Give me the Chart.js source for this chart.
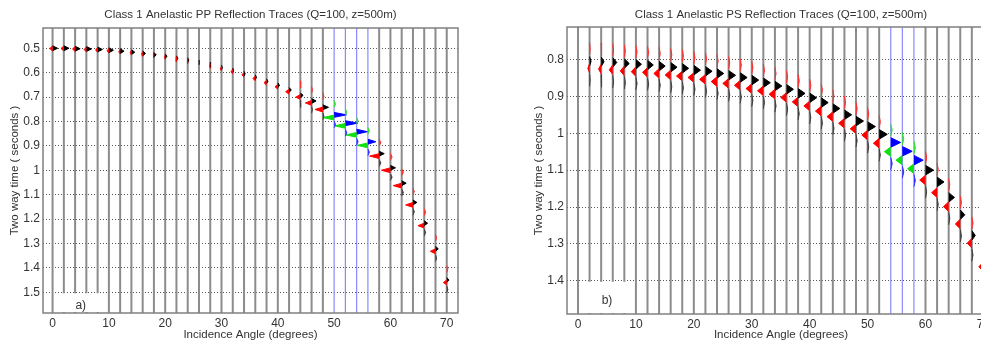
<!DOCTYPE html>
<html>
<head>
<meta charset="utf-8">
<script src="https://cdn.jsdelivr.net/npm/chart.js@4.4.0/dist/chart.umd.min.js"></script>
<style>
  html, body { margin: 0; padding: 0; background: #fff; overflow: hidden; width: 981px; height: 343px; }
  #pp { position: absolute; left: 0; top: 0; }
  #ps { position: absolute; left: 490px; top: 0; }
</style>
</head>
<body>
<canvas id="pp" width="490" height="343"></canvas>
<canvas id="ps" width="520" height="343"></canvas>
<script>
// trace positions (incidence angle, degrees)
const angles = [0, 2, 4, 6, 8, 10, 12, 14, 16, 18, 20, 22, 24, 26, 28, 30, 32, 34,
  36, 38, 40, 42, 44, 46, 48, 50, 52, 54, 56, 58, 60, 62, 64, 66, 68, 70];
const xTicks = [0, 10, 20, 30, 40, 50, 60, 70];

// PP panel
const ppYTicks = [0.5, 0.6, 0.7, 0.8, 0.9, 1, 1.1, 1.2, 1.3, 1.4, 1.5];
const ppHighlight = [50, 52, 54, 56];
const ppRightTime = [0.500, 0.500, 0.502, 0.503, 0.505, 0.508, 0.512, 0.516, 0.521, 0.527,
  0.533, 0.541, 0.549, 0.558, 0.568, 0.579, 0.591, 0.604, 0.619, 0.635, 0.652, 0.671,
  0.693, 0.716, 0.742, 0.773, 0.807, 0.842, 0.883, 0.932, 0.990, 1.053, 1.132, 1.217,
  1.322, 1.450];
const ppLeftTime = [0.501, 0.501, 0.503, 0.505, 0.507, 0.510, 0.514, 0.518, 0.524, 0.530,
  0.536, 0.545, 0.553, 0.562, 0.573, 0.584, 0.596, 0.609, 0.624, 0.641, 0.658, 0.678,
  0.700, 0.724, 0.751, 0.784, 0.818, 0.855, 0.898, 0.942, 1.000, 1.063, 1.142, 1.227,
  1.332, 1.460];
const ppRightAmp = [0.9, 0.9, 0.9, 0.9, 0.85, 0.8, 0.7, 0.6, 0.5, 0.4, 0.3, 0.25, 0.2, 0.05,
  0.1, 0.15, 0.15, 0.2, 0.2, 0.25, 0.3, 0.4, 0.5, 0.8, 1.0, 2.2, 2.2, 1.9, 1.4, 0.9, 0.9,
  0.8, 0.7, 0.6, 0.5, 0.4];
const ppLeftAmp = [0.5, 0.5, 0.45, 0.4, 0.35, 0.3, 0.25, 0.2, 0.2, 0.15, 0.1, 0.05, 0.05, 0,
  0.1, 0.2, 0.3, 0.35, 0.4, 0.45, 0.5, 0.6, 0.8, 1.1, 1.4, 2.0, 1.9, 1.9, 1.9, 1.7, 1.6,
  1.5, 1.3, 1.1, 0.9, 0.6];
const ppSideAmp = [0, 0, 0, 0, 0, 0, 0, 0, 0, 0, 0, 0, 0, 0, 0, 0, 0, 0, 0, 0, 0, 0,
  0.1, 0.15, 0.2, 0.25, 0.25, 0.25, 0.25, 0.3, 0.3, 0.3, 0.25, 0.25, 0.2, 0.2];

// PS panel
const psYTicks = [0.8, 0.9, 1, 1.1, 1.2, 1.3, 1.4];
const psHighlight = [54, 56, 58];
const psRightTime = [null, 0.805, 0.806, 0.808, 0.811, 0.813, 0.815, 0.818, 0.821, 0.824,
  0.829, 0.832, 0.838, 0.843, 0.849, 0.856, 0.863, 0.872, 0.881, 0.892, 0.904, 0.917,
  0.933, 0.950, 0.967, 0.982, 1.003, 1.025, 1.049, 1.073, 1.100, 1.132, 1.174, 1.221,
  1.277, 1.340];
const psLeftTime = [null, 0.824, 0.826, 0.828, 0.831, 0.833, 0.835, 0.838, 0.842, 0.845,
  0.849, 0.854, 0.860, 0.865, 0.870, 0.879, 0.885, 0.894, 0.903, 0.915, 0.926, 0.940,
  0.955, 0.973, 0.988, 1.005, 1.027, 1.050, 1.073, 1.096, 1.127, 1.161, 1.199, 1.246,
  1.298, 1.362];
const psRightAmp = [0, 0.25, 0.5, 0.7, 0.85, 0.95, 1.0, 1.05, 1.1, 1.1, 1.15, 1.15, 1.15,
  1.2, 1.2, 1.2, 1.2, 1.2, 1.2, 1.2, 1.2, 1.2, 1.2, 1.25, 1.3, 1.35, 1.4, 1.7, 1.7, 1.6,
  1.4, 1.2, 1.0, 0.8, 0.6, 0.4];
const psLeftAmp = [0, 0.3, 0.45, 0.6, 0.7, 0.8, 0.85, 0.9, 0.95, 1.0, 1.0, 1.0, 1.0, 1.0,
  1.0, 1.0, 1.0, 1.0, 1.0, 1.0, 1.0, 1.0, 1.0, 1.0, 1.0, 1.0, 1.0, 1.1, 1.1, 1.1, 1.0,
  0.95, 0.9, 0.85, 0.8, 0.8];
const psSideAmp = [0, 0.1, 0.12, 0.15, 0.18, 0.2, 0.2, 0.2, 0.2, 0.2, 0.2, 0.2, 0.2, 0.2,
  0.2, 0.2, 0.2, 0.2, 0.2, 0.2, 0.2, 0.2, 0.2, 0.2, 0.2, 0.2, 0.2, 0.25, 0.25, 0.25, 0.2,
  0.2, 0.2, 0.2, 0.2, 0.2];

const FONT = '"Liberation Sans", Arial, sans-serif';
const TEXT = '#333';

// vertical trace lines, broken with nulls so one dataset holds many traces
function traceData(list, y0, y1) {
  const pts = [];
  list.forEach((a) => {
    pts.push({ x: a, y: y0 }, { x: a, y: y1 }, { x: a, y: null });
  });
  return pts;
}

// filled wavelet lobes as small triangles hanging off each trace
function lobeData(times, amps, dir, shift, hh, keep) {
  const pts = [];
  angles.forEach((a, i) => {
    if (times[i] == null || !amps[i] || !keep(a)) return;
    const t = times[i] + shift;
    pts.push({ x: a, y: t - hh }, { x: a + dir * amps[i], y: t }, { x: a, y: t + hh }, { x: a, y: null });
  });
  return pts;
}

function lobeSet(data, color) {
  return {
    data,
    borderColor: color,
    backgroundColor: color,
    borderWidth: 1,
    pointRadius: 0,
    fill: 'shape',
    order: 0
  };
}

const framePlugin = {
  id: 'frame',
  afterDatasetsDraw(chart, args, opts) {
    const { ctx, chartArea: ca, scales: { x, y } } = chart;
    ctx.save();
    // panel label box in the lower-left corner
    const bx0 = x.getPixelForValue(1);
    const bx1 = x.getPixelForValue(9);
    const by0 = y.getPixelForValue(opts.boxTop);
    ctx.fillStyle = '#fff';
    ctx.fillRect(bx0, by0 + 1, bx1 - bx0, ca.bottom - by0 - 2);
    ctx.fillStyle = TEXT;
    ctx.font = '12px ' + FONT;
    ctx.textAlign = 'center';
    ctx.textBaseline = 'middle';
    ctx.fillText(opts.label, (bx0 + bx1) / 2, (by0 + ca.bottom) / 2 + 3);
    // axes box
    ctx.strokeStyle = '#808080';
    ctx.lineWidth = 1.5;
    ctx.strokeRect(ca.left, ca.top, ca.right - ca.left, ca.bottom - ca.top);
    // title
    ctx.font = '11.5px ' + FONT;
    ctx.fillText(opts.title, (ca.left + ca.right) / 2, opts.titleY);
    ctx.restore();
  }
};

function makeChart(id, p) {
  const hi = (a) => p.highlight.includes(a);
  const lo = (a) => !p.highlight.includes(a);
  const plain = angles.filter(lo);
  const blue = angles.filter(hi);

  const datasets = [
    { data: traceData(plain, p.yMin, p.yMax), borderColor: '#8c8c8c', borderWidth: 2, pointRadius: 0, fill: false, order: 10 },
    { data: traceData(blue, p.yMin, p.yMax), borderColor: '#8a8aff', borderWidth: 1.2, pointRadius: 0, fill: false, order: 9 },
    lobeSet(lobeData(p.rightTime, p.sideAmp, 1, p.preShift, p.sideH, lo), '#ff3030'),
    lobeSet(lobeData(p.rightTime, p.sideAmp, 1, p.preShift, p.sideH, hi), '#30e030'),
    lobeSet(lobeData(p.leftTime, p.sideAmp, 1, p.tailShift, p.sideH, lo), '#404040'),
    lobeSet(lobeData(p.leftTime, p.sideAmp, 1, p.tailShift, p.sideH, hi), '#3030ff'),
    lobeSet(lobeData(p.leftTime, p.leftAmp, -1, 0, p.h, lo), '#ff0000'),
    lobeSet(lobeData(p.leftTime, p.leftAmp, -1, 0, p.h, hi), '#10e010'),
    lobeSet(lobeData(p.rightTime, p.rightAmp, 1, 0, p.h, lo), '#000000'),
    lobeSet(lobeData(p.rightTime, p.rightAmp, 1, 0, p.h, hi), '#0000ff')
  ];

  return new Chart(document.getElementById(id), {
    type: 'line',
    data: { datasets },
    options: {
      responsive: false,
      animation: false,
      events: [],
      layout: { padding: p.padding },
      plugins: {
        legend: { display: false },
        tooltip: { enabled: false },
        frame: { title: p.title, titleY: p.titleY, label: p.label, boxTop: p.boxTop }
      },
      scales: {
        x: {
          type: 'linear',
          min: p.xMin,
          max: p.xMax,
          afterBuildTicks: (s) => { s.ticks = xTicks.map((v) => ({ value: v })); },
          afterFit: (s) => { s.height = p.xAxisH; },
          grid: { display: false, drawTicks: false, tickLength: 0 },
          border: { display: false },
          ticks: { color: TEXT, font: { size: 12, family: FONT }, padding: 3, maxRotation: 0, autoSkip: false, callback: (v) => String(v) },
          title: { display: true, text: 'Incidence Angle (degrees)', color: TEXT, font: { size: 11.5, family: FONT }, padding: { top: 0, bottom: 1 } }
        },
        y: {
          type: 'linear',
          reverse: true,
          min: p.yMin,
          max: p.yMax,
          afterBuildTicks: (s) => { s.ticks = p.yTicks.map((v) => ({ value: v })); },
          afterFit: (s) => { s.width = p.yAxisW; },
          grid: { color: '#555', lineWidth: 1, drawTicks: false },
          border: { display: false, dash: [1, 2] },
          ticks: { color: TEXT, font: { size: 12, family: FONT }, padding: 3, autoSkip: false, callback: (v) => String(v) },
          title: { display: true, text: 'Two way time ( seconds )', color: TEXT, font: { size: 11.5, family: FONT }, padding: { top: p.yTitlePad, bottom: 0 } }
        }
      }
    },
    plugins: [framePlugin]
  });
}

makeChart('pp', {
  title: 'Class 1 Anelastic PP Reflection Traces (Q=100, z=500m)',
  titleY: 15, label: 'a)', boxTop: 1.5,
  xMin: -1.7, xMax: 72, yMin: 0.417, yMax: 1.585,
  yTicks: ppYTicks, highlight: ppHighlight,
  rightTime: ppRightTime, leftTime: ppLeftTime,
  rightAmp: ppRightAmp, leftAmp: ppLeftAmp, sideAmp: ppSideAmp,
  h: 0.010, sideH: 0.014, preShift: -0.045, tailShift: 0.028,
  padding: { top: 28, right: 32, bottom: 0, left: 0 },
  xAxisH: 30, yAxisW: 43, yTitlePad: 8
});

makeChart('ps', {
  title: 'Class 1 Anelastic PS Reflection Traces (Q=100, z=500m)',
  titleY: 14.5, label: 'b)', boxTop: 1.4,
  xMin: -1.9, xMax: 72, yMin: 0.712, yMax: 1.49,
  yTicks: psYTicks, highlight: psHighlight,
  rightTime: psRightTime, leftTime: psLeftTime,
  rightAmp: psRightAmp, leftAmp: psLeftAmp, sideAmp: psSideAmp,
  h: 0.013, sideH: 0.017, preShift: -0.034, tailShift: 0.032,
  padding: { top: 27, right: 15, bottom: 0, left: 0 },
  xAxisH: 29, yAxisW: 77, yTitlePad: 42
});
</script>
</body>
</html>
